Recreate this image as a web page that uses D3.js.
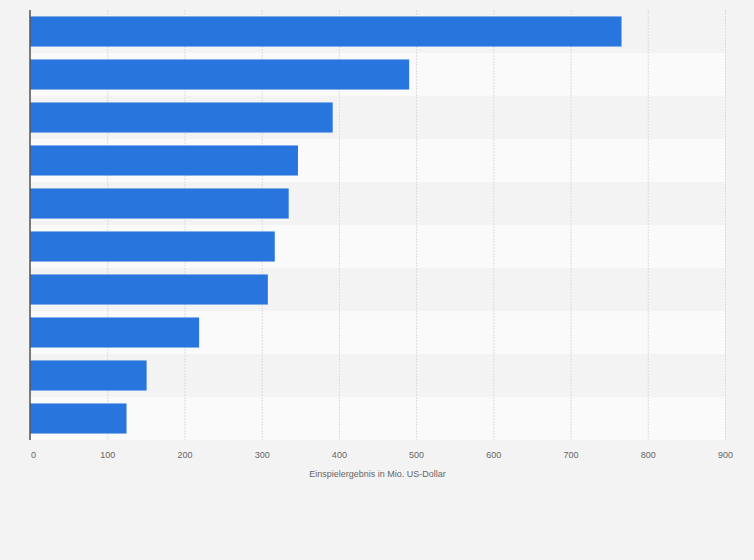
<!DOCTYPE html>
<html>
<head>
<meta charset="utf-8">
<script src="https://cdn.jsdelivr.net/npm/d3@7"></script>
<style>
  body { margin: 0; background: #f3f3f3; }
  text { font-family: 'Liberation Sans', Arial, sans-serif; }
</style>
</head>
<body>
<svg id="chart" width="754" height="560"></svg>
<script>
const categories = ['1', '2', '3', '4', '5', '6', '7', '8', '9', '10'];
const values = [766, 491, 392, 347, 335, 317, 308, 219, 151, 125];
const xTicks = [0, 100, 200, 300, 400, 500, 600, 700, 800, 900];
const xLabel = 'Einspielergebnis in Mio. US-Dollar';

const margin = { top: 10, left: 30, right: 29, bottom: 120 },
  width = 754,
  height = 560,
  chartWidth = width - margin.left - margin.right,
  chartHeight = height - margin.top - margin.bottom;

const svg = d3.select('#chart');
svg.append('rect').attr('width', width).attr('height', height).attr('fill', '#f3f3f3');

const g = svg.append('g').attr('transform', 'translate(' + margin.left + ',' + margin.top + ')');

const x = d3.scaleLinear().domain([0, 900]).range([0, chartWidth]);
const y = d3.scaleBand().domain(categories).range([0, chartHeight]).paddingInner(0.3).paddingOuter(0.15);
const rows = d3.scaleBand().domain(categories).range([0, chartHeight]);

// alternating row bands
g.selectAll('.band')
  .data(categories)
  .enter()
  .append('rect')
  .attr('x', 0)
  .attr('y', d => rows(d))
  .attr('width', chartWidth)
  .attr('height', rows.bandwidth())
  .attr('fill', (d, i) => (i % 2 ? '#fafafa' : '#f3f3f3'));

// grid
g.append('g')
  .attr('class', 'grid')
  .call(d3.axisBottom(x).tickValues(xTicks).tickSize(chartHeight).tickFormat(''))
  .call(s => s.select('.domain').remove())
  .selectAll('line')
  .attr('stroke', '#dcdcdc')
  .attr('stroke-dasharray', '2,1');

g.selectAll('.bar')
  .data(values)
  .enter()
  .append('rect')
  .attr('x', 0)
  .attr('y', (d, i) => y(categories[i]))
  .attr('width', d => x(d))
  .attr('height', y.bandwidth())
  .attr('fill', '#2876dd');

// axis line
g.append('line')
  .attr('x1', 0).attr('x2', 0)
  .attr('y1', 0).attr('y2', chartHeight)
  .attr('stroke', '#555').attr('stroke-width', 1.5);

const xAxis = g.append('g')
  .attr('transform', 'translate(0,' + chartHeight + ')')
  .call(d3.axisBottom(x).tickValues(xTicks).tickSize(0).tickPadding(12));
xAxis.select('.domain').remove();
xAxis.selectAll('text')
  .attr('fill', '#666')
  .style('font-size', '9px')
  .attr('dx', (d, i) => (i === 0 ? 3 : 0));

g.append('text')
  .attr('x', chartWidth / 2)
  .attr('y', chartHeight + 37)
  .attr('text-anchor', 'middle')
  .attr('fill', '#666')
  .style('font-size', '9px')
  .text(xLabel);
</script>
</body>
</html>
